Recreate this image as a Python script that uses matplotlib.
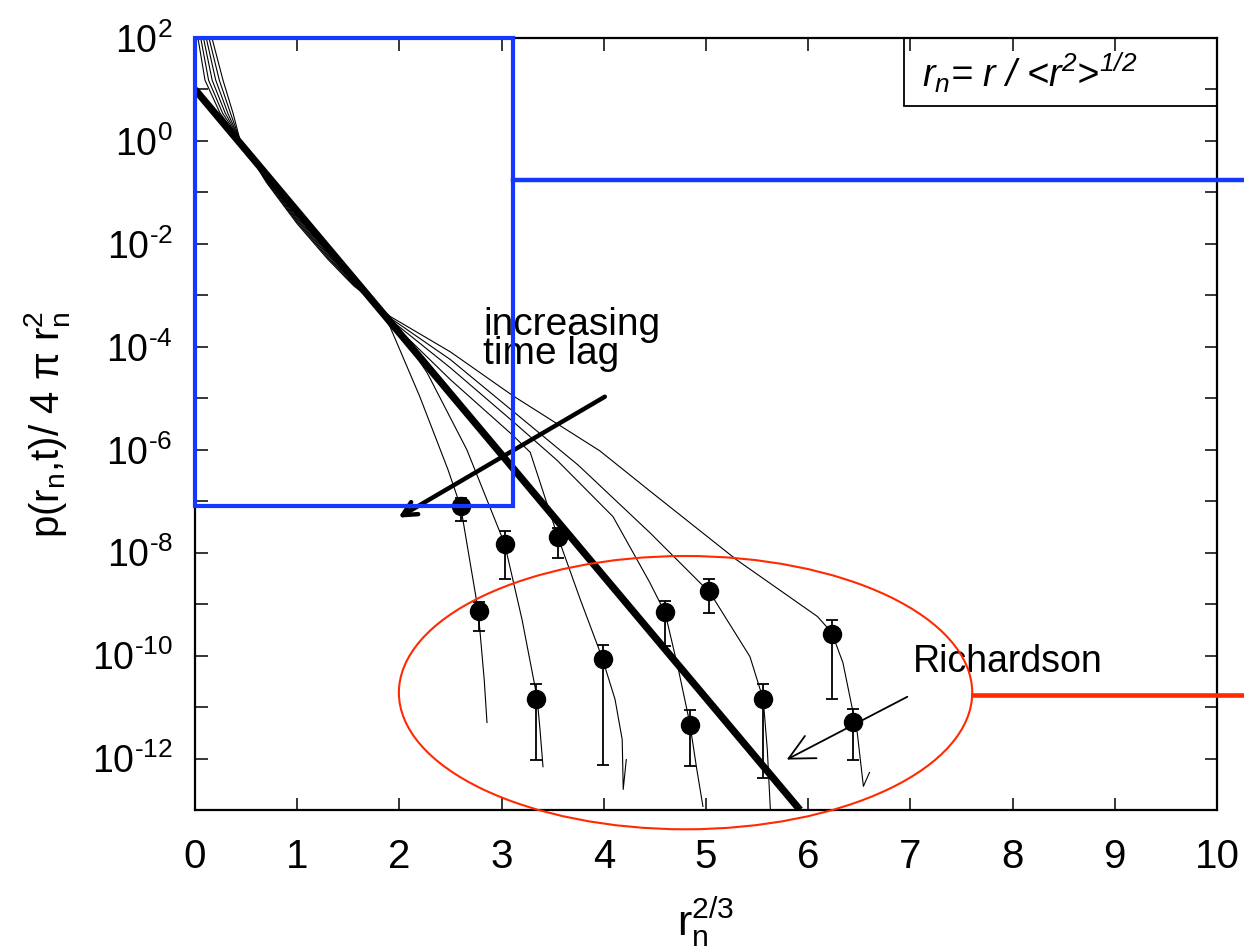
import numpy as np
import matplotlib
matplotlib.use("Agg")
from matplotlib import pyplot as plt
from matplotlib.patches import Ellipse, Rectangle

# thin curves: x = r_n^(2/3), value given as log10 of p/(4 pi r_n^2)
curve_x = [
    [0.029, 0.098, 0.245, 0.44, 0.70, 1.00, 1.30, 1.55, 1.75, 1.908, 2.20, 2.476, 2.60, 2.77, 2.83, 2.857],
    [0.056, 0.133, 0.270, 0.44, 0.70, 1.00, 1.30, 1.55, 1.75, 2.035, 2.27, 2.66, 3.03, 3.20, 3.346, 3.376, 3.405],
    [0.083, 0.168, 0.296, 0.44, 0.70, 1.00, 1.30, 1.55, 1.75, 1.91, 2.50, 3.11, 3.28, 3.55, 3.77, 3.98, 4.11, 4.18, 4.19, 4.22],
    [0.110, 0.203, 0.321, 0.44, 0.70, 1.00, 1.30, 1.55, 1.75, 1.91, 2.50, 3.11, 3.54, 4.09, 4.45, 4.60, 4.73, 4.84, 4.91, 4.97],
    [0.137, 0.238, 0.347, 0.44, 0.70, 1.00, 1.30, 1.55, 1.75, 1.91, 2.50, 3.11, 3.75, 4.45, 5.04, 5.43, 5.56, 5.60, 5.63],
    [0.166, 0.274, 0.372, 0.44, 0.70, 1.00, 1.30, 1.55, 1.75, 1.91, 2.50, 3.11, 3.96, 4.45, 5.30, 6.09, 6.23, 6.34, 6.48, 6.54, 6.60],
]
curve_logp = [
    [2.0, 1.18, 0.54, 0.02, -0.71, -1.46, -2.15, -2.71, -3.13, -3.61, -4.97, -6.39, -7.11, -9.11, -10.47, -11.30],
    [2.0, 1.18, 0.54, 0.02, -0.73, -1.49, -2.18, -2.73, -3.13, -3.81, -4.50, -6.00, -7.83, -9.30, -10.80, -11.44, -12.16],
    [2.0, 1.18, 0.54, 0.02, -0.75, -1.52, -2.21, -2.75, -3.13, -3.50, -4.64, -5.72, -6.05, -7.69, -8.91, -10.02, -10.85, -11.63, -12.60, -12.02],
    [2.0, 1.18, 0.54, 0.02, -0.77, -1.55, -2.24, -2.77, -3.13, -3.47, -4.41, -5.45, -6.20, -7.30, -8.58, -9.17, -10.27, -11.30, -12.21, -12.93],
    [2.0, 1.18, 0.54, 0.02, -0.79, -1.58, -2.27, -2.79, -3.13, -3.44, -4.25, -5.25, -6.30, -7.61, -8.78, -10.02, -10.85, -11.83, -13.00],
    [2.0, 1.18, 0.54, 0.02, -0.81, -1.61, -2.30, -2.81, -3.13, -3.41, -4.10, -4.95, -6.02, -6.80, -8.14, -9.24, -9.55, -10.14, -11.50, -12.54, -12.27],
]

# thick Richardson line
rich_x = [0.0, 5.92]
rich_logp = [1.0, -13.0]

# data points with error bars (log10)
pts_x = [2.60, 3.03, 3.55, 2.78, 3.34, 3.99, 4.60, 5.03, 4.84, 5.56, 6.23, 6.44]
pts_logp = [-7.10, -7.83, -7.70, -9.14, -10.84, -10.06, -9.16, -8.75, -11.34, -10.85, -9.58, -11.29]
pts_logp_hi = [-6.93, -7.57, -7.52, -8.95, -10.56, -9.79, -8.93, -8.52, -11.05, -10.56, -9.30, -11.03]
pts_logp_lo = [-7.39, -8.52, -8.10, -9.53, -12.02, -12.12, -9.81, -9.18, -12.15, -12.37, -10.84, -12.02]

xticks = [0, 1, 2, 3, 4, 5, 6, 7, 8, 9, 10]
ytick_exp = list(range(2, -14, -1))

blue = "#1438ff"
red = "#ff2a00"

plt.rcParams["font.family"] = ["Liberation Sans", "DejaVu Sans"]
plt.rcParams["mathtext.fontset"] = "custom"
plt.rcParams["mathtext.rm"] = "Liberation Sans"
plt.rcParams["mathtext.it"] = "Liberation Sans:italic"
plt.rcParams["mathtext.default"] = "regular"

narrow = ["Liberation Sans Narrow", "Liberation Sans", "DejaVu Sans"]


def ylab(e):
    if e % 2:
        return ""
    return "10$^{\\mathregular{%s}}$" % str(e).replace("-", "\u2010")


fig = plt.figure(figsize=(12.44, 9.51), dpi=100)
ax = fig.add_axes([195 / 1244, 141 / 951, 1022 / 1244, 772 / 951])

for cx, cl in zip(curve_x, curve_logp):
    ax.plot(cx, 10.0 ** np.array(cl), color="black", lw=0.8)

ax.plot(rich_x, 10.0 ** np.array(rich_logp), color="black", lw=5.2, solid_capstyle="butt")

py = 10.0 ** np.array(pts_logp)
err = [py - 10.0 ** np.array(pts_logp_lo), 10.0 ** np.array(pts_logp_hi) - py]
ax.errorbar(pts_x, py, yerr=err, fmt="o", color="black", ms=13, elinewidth=1.3,
            capsize=4.5, capthick=1.3, zorder=5)

ax.set_yscale("log")
ax.set_xlim(0, 10)
ax.set_ylim(1e-13, 1e2)

ax.set_xticks(xticks)
ax.set_xticklabels([str(t) for t in xticks], fontfamily=narrow, fontsize=29)
ax.set_yticks([10.0 ** e for e in ytick_exp])
ax.set_yticklabels([ylab(e) for e in ytick_exp], fontsize=27)
ax.minorticks_off()
ax.tick_params(axis="both", which="major", direction="in", length=9, width=1.1,
               top=True, right=True)
ax.tick_params(axis="x", pad=20)
ax.tick_params(axis="y", pad=16)
for s in ax.spines.values():
    s.set_linewidth(1.6)

ax.set_xlabel("r$_{\\mathregular{n}}^{\\mathregular{2/3}}$", fontfamily=narrow, fontsize=31, labelpad=14)
ax.set_ylabel("p(r$_{\\mathregular{n}}$,t)/ 4 \u03c0 r$_{\\mathregular{n}}^{\\mathregular{2}}$",
              fontsize=29, labelpad=14)

# overlays
ax.add_patch(Rectangle((0, 0.394), 0.311, 0.606, transform=ax.transAxes, fill=False,
                       ec=blue, lw=3, clip_on=False, zorder=6))
ax.plot([0.311, 1.03], [0.816, 0.816], transform=ax.transAxes, color=blue, lw=3.2,
        clip_on=False, zorder=6)
ax.add_patch(Ellipse((0.480, 0.152), 0.561, 0.354, transform=ax.transAxes, fill=False,
                     ec=red, lw=1.5, clip_on=False, zorder=6))
ax.plot([0.761, 1.03], [0.149, 0.149], transform=ax.transAxes, color=red, lw=3.3,
        clip_on=False, zorder=6)

# formula box
ax.add_patch(Rectangle((0.694, 0.912), 0.306, 0.088, transform=ax.transAxes, fill=False,
                       ec="black", lw=1.3, zorder=6))
ax.text(0.711, 0.937, "r$_{\\mathregular{n}}$= r / <r$^{\\mathregular{2}}$>$^{\\mathregular{1/2}}$",
        transform=ax.transAxes, fontsize=27, style="italic", ha="left", va="baseline")

# annotations
ax.annotate("", xy=(1.99, 10 ** -7.32), xytext=(4.01, 10 ** -4.97),
            arrowprops=dict(arrowstyle="->,head_length=0.5,head_width=0.25", lw=3.2,
                            color="black", mutation_scale=20, shrinkA=0, shrinkB=0))
ax.text(2.82, 10 ** -3.22, "increasing\ntime lag", fontfamily=narrow, fontsize=28,
        ha="left", va="top", linespacing=0.78)
ax.annotate("", xy=(5.79, 10 ** -12.02), xytext=(6.97, 10 ** -10.80),
            arrowprops=dict(arrowstyle="->,head_length=0.9,head_width=0.45", lw=1.3,
                            color="black", mutation_scale=20, shrinkA=0, shrinkB=0))
ax.text(7.02, 10 ** -10.31, "Richardson", fontsize=27, ha="left", va="baseline")

fig.savefig("out.png", dpi=100)
